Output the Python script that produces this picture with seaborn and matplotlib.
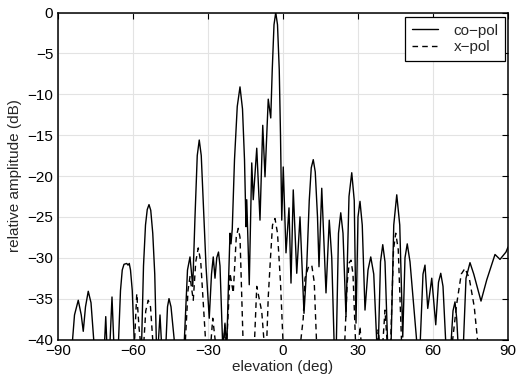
import matplotlib
matplotlib.use("Agg")
import matplotlib.pyplot as plt
import pandas as pd
import seaborn as sns

# co-pol: pontos (graus, dB); valores < -40 ficam cortados pelo eixo
co_elev = [-90, -84.3, -83.4, -81.9, -80.7, -79.9, -79.0, -77.9, -76.8, -75.6,
           -73.0, -71.4, -70.9, -70.4, -69.3, -68.4, -67.6,
           -65.9, -65.0, -64.3, -63.6, -62.5, -62.0, -61.5, -61.0, -60.3, -59.4,
           -56.6, -55.8, -55.0, -54.3, -53.6, -52.9, -52.1, -51.3, -50.6,
           -50.0, -49.2, -48.5, -46.9, -46.2, -45.6, -44.8, -43.2,
           -40.5, -39.6, -38.2, -37.2, -36.1, -35.2, -34.3, -33.5, -32.7, -31.8, -30.8,
           -29.5, -28.6, -27.9, -27.2, -26.5, -25.8, -25.2, -24.1,
           -23.2, -22.5, -21.8, -21.2, -20.8, -20.3, -19.4, -18.3, -17.2, -16.2, -15.4,
           -14.8, -14.5, -13.5, -12.5, -11.9, -10.5, -9.2, -8.1, -7.2, -5.9, -4.9,
           -4.3, -3.6, -2.9, -2.2, -1.5, -1.0, -0.5, 0.1, 1.2, 2.4, 3.2, 4.1, 5.5, 6.8,
           8.4, 9.5, 10.5, 11.3, 12.1, 12.9, 13.8, 14.4, 15.5, 17.2, 18.5, 19.5, 20.5,
           21.3, 22.2, 23.1, 24.0, 25.2, 26.4, 27.5, 28.5, 29.2, 30.0, 30.8, 31.7, 32.8,
           34.0, 35.1, 36.3, 37.6, 38.1, 39.0, 39.9, 40.8, 41.9,
           43.2, 44.3, 45.5, 46.7, 47.9, 48.8, 49.7, 50.8, 53.7,
           54.8, 56.0, 56.8, 57.9, 59.5, 61.1, 62.2, 63.1, 64.0, 65.2,
           67.1, 68.0, 68.8, 69.5, 70.1, 72.1, 73.2, 74.8, 76.3, 79.2, 81.5, 84.8, 86.8, 89.2, 90]
co_db = [-45, -40.5, -37.0, -35.2, -37.0, -39.0, -36.0, -34.1, -35.5, -40.5,
         -45, -40.5, -37.2, -41, -41, -34.8, -41,
         -41, -34.0, -31.5, -30.8, -30.7, -30.9, -30.7, -31.5, -34.0, -41,
         -41, -31.0, -26.0, -24.1, -23.5, -24.2, -27.0, -32.0, -41,
         -41, -37.0, -41, -41, -36.0, -35.0, -36.0, -41,
         -45, -41, -31.5, -29.9, -33.5, -25.0, -17.5, -15.6, -17.5, -24.0, -31.0,
         -37.4, -32.0, -29.9, -32.5, -30.0, -29.3, -31.0, -41,
         -38.2, -41, -33.0, -27.0, -28.3, -26.5, -18.0, -11.5, -9.1, -11.8, -18.0,
         -26.2, -22.9, -33.3, -18.4, -22.9, -16.6, -25.4, -13.8, -20.1, -10.6, -12.9,
         -7.0, -1.5, 0.0, -1.5, -7.0, -15.0, -25.4, -18.9, -29.4, -23.9, -33.1, -21.7, -31.9, -25.0,
         -36.8, -31.0, -23.0, -19.0, -18.0, -19.5, -25.0, -31.1, -21.5, -34.3, -25.4, -30.0, -41,
         -41, -27.0, -24.5, -27.0, -37.2, -22.5, -19.6, -23.0, -38.0, -25.0, -23.1, -26.0, -36.4,
         -31.5, -29.9, -32.0, -41, -41, -30.5, -28.4, -30.5, -41,
         -41, -26.0, -22.3, -26.0, -39.7, -30.0, -28.3, -30.5, -41,
         -41, -32.0, -30.9, -36.2, -32.5, -38.2, -33.0, -31.9, -33.5, -41,
         -41, -36.5, -35.4, -37.5, -41, -41, -32.5, -30.6, -32.0, -35.3, -32.7, -29.6, -30.2, -29.3, -28.7]

# x-pol
x_elev = [-90, -60.0, -59.5, -58.5, -57.6, -56.8, -55.8, -54.9, -53.9, -53.0, -51.9,
          -40.0, -39.2, -38.0, -37.2, -35.9, -34.9, -33.9, -32.9, -30.8,
          -29.0, -28.1, -26.8, -23.8, -23.2, -22.6, -21.8, -21.2, -19.9, -18.7, -17.9, -17.2, -15.9,
          -11.5, -10.5, -8.5, -7.4, -6.6, -5.9, -5.0, -4.2, -3.2, -2.2, -1.0, 0.1,
          6.8, 8.1, 8.8, 10.1, 11.5, 12.5, 13.5,
          24.6, 25.7, 26.5, 27.2, 28.0, 29.1, 30.2, 30.8, 31.4,
          37.4, 38.1, 38.8, 39.8, 40.8, 41.8, 43.0, 44.2, 45.1, 46.1, 47.5,
          67.5, 69.5, 71.3, 72.8, 74.5, 76.5, 78.1, 90]
x_db = [-45, -45, -41, -34.4, -38.5, -41, -41, -36.5, -35.2, -36.0, -41,
        -45, -41, -34.0, -32.3, -35.2, -30.5, -28.8, -30.5, -41,
        -41, -37.4, -41, -41, -38.0, -41, -36.0, -31.9, -34.3, -27.5, -26.4, -27.5, -41,
        -41, -33.5, -36.6, -41, -41, -34.8, -30.0, -26.0, -25.2, -27.0, -33.0, -41,
        -41, -37.4, -32.5, -31.2, -30.9, -33.0, -41,
        -41, -33.0, -30.6, -30.3, -32.0, -41, -41, -38.4, -41,
        -41, -38.8, -41, -41, -36.4, -41, -41, -29.0, -27.0, -29.0, -41,
        -41, -35.6, -32.0, -31.3, -32.5, -36.0, -41, -45]

x_ticks = [-90, -60, -30, 0, 30, 60, 90]
y_ticks = [0, -5, -10, -15, -20, -25, -30, -35, -40]

df = pd.concat([
    pd.DataFrame({"elev": co_elev, "amp": co_db, "pol": "co\u2212pol"}),
    pd.DataFrame({"elev": x_elev, "amp": x_db, "pol": "x\u2212pol"}),
])

sns.set_style("white")
plt.rcParams["font.family"] = ["Liberation Sans", "DejaVu Sans"]

fig = plt.figure(figsize=(5.18, 3.81), dpi=100)
ax = fig.add_axes([58 / 518, 1 - 339.5 / 381, 450 / 518, 327 / 381])

sns.lineplot(data=df, x="elev", y="amp", hue="pol", style="pol",
             palette=["black", "black"], dashes={"co\u2212pol": "", "x\u2212pol": (4, 3)},
             estimator=None, sort=False, linewidth=1.0, ax=ax)

ax.set_xlim(-90, 90)
ax.set_ylim(-40, 0)
ax.set_xticks(x_ticks)
ax.set_yticks(y_ticks)
ax.grid(True, color="#e3e3e3", linewidth=0.8)
ax.tick_params(direction="in", length=4, width=0.8, top=True, right=True,
               labelsize=11, colors="black")
for s in ax.spines.values():
    s.set_visible(True)
    s.set_color("black")
    s.set_linewidth(1.1)
ax.set_xlabel("elevation (deg)", fontsize=11, labelpad=1)
ax.set_ylabel("relative amplitude (dB)", fontsize=11, labelpad=4)

leg = ax.legend(loc="upper right", bbox_to_anchor=(0.994, 0.987), borderaxespad=0,
                fontsize=11, frameon=True, fancybox=False, handlelength=1.7,
                handletextpad=1.0, borderpad=0.45, labelspacing=0.15)
leg.get_frame().set_edgecolor("black")
leg.get_frame().set_linewidth(0.9)
leg.get_frame().set_alpha(1)

fig.savefig("out.png", dpi=100)
